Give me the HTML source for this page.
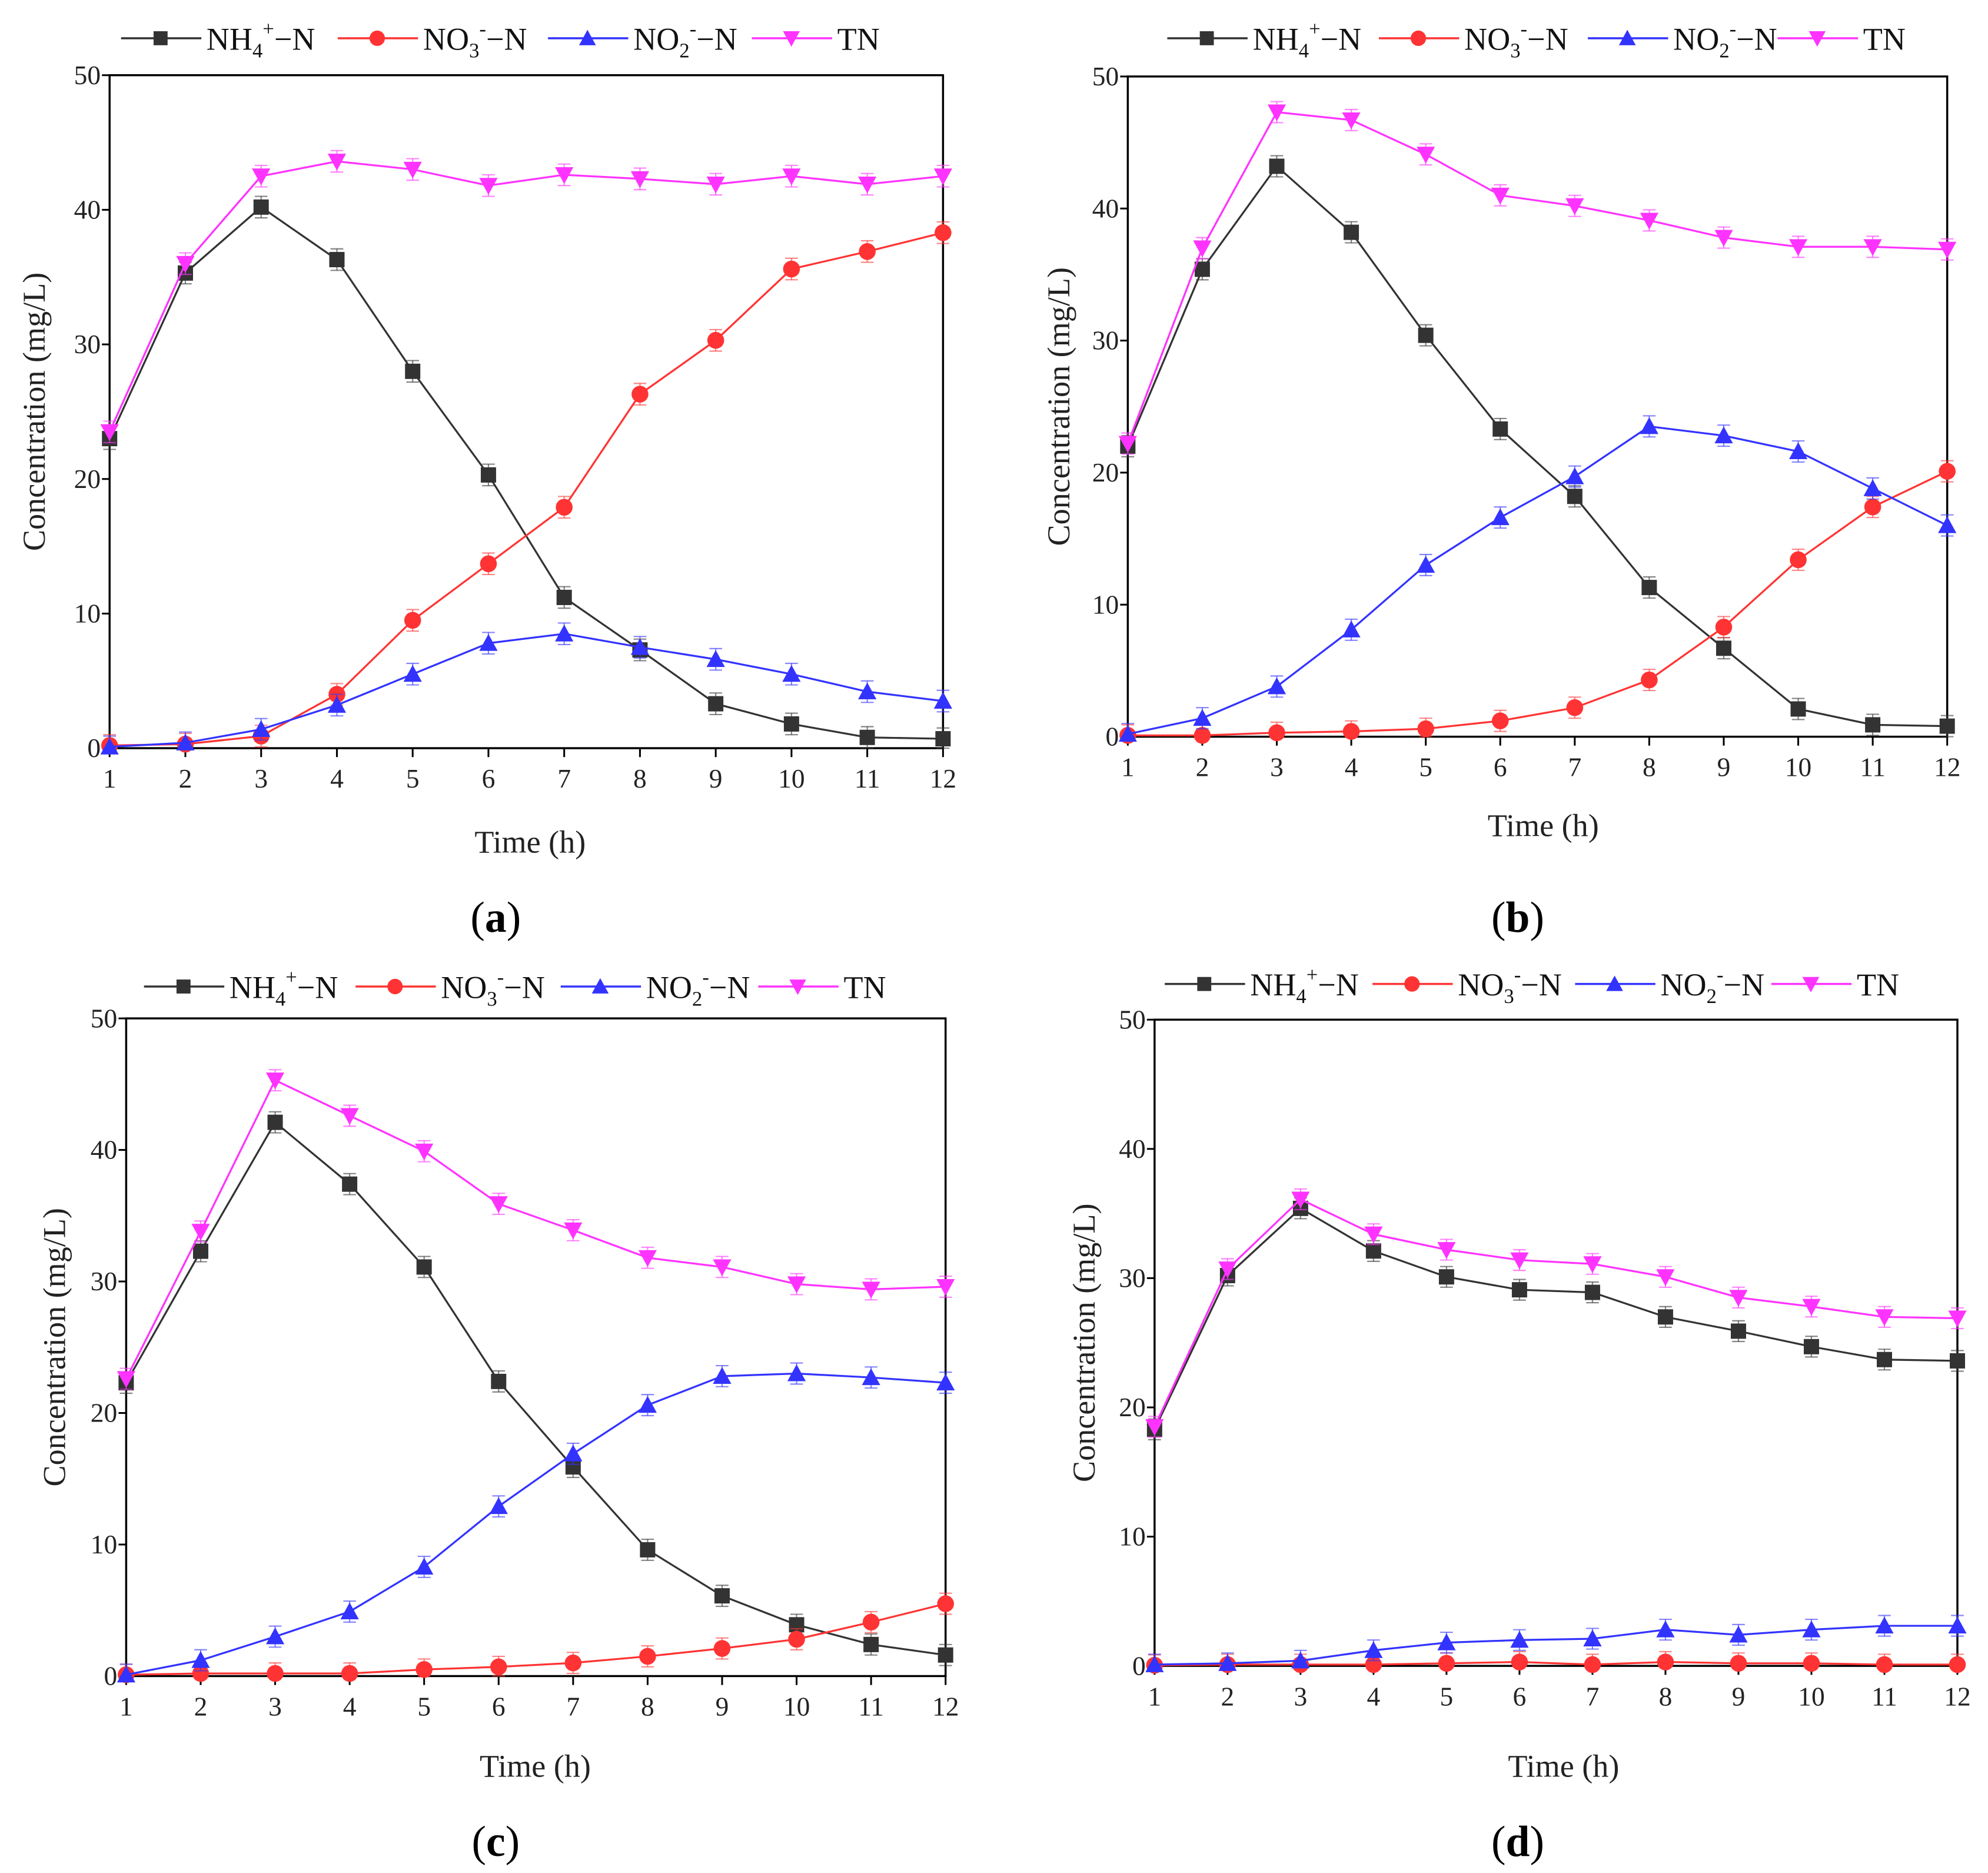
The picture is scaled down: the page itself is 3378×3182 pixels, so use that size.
<!DOCTYPE html>
<html><head><meta charset="utf-8"><style>
html,body{margin:0;padding:0;background:#fff;}
svg{display:block;font-family:"Liberation Serif",serif;}
</style></head><body>
<svg id="fig" width="3378" height="3182" viewBox="0 0 1560 1469.5" xmlns="http://www.w3.org/2000/svg"></svg>
<script>
const hours=[1,2,3,4,5,6,7,8,9,10,11,12];
const yTicks=[0,10,20,30,40,50];
const seriesNames=["NH4","NO3","NO2","TN"];
// panel a
const aNH4=[23,35.3,40.2,36.3,28,20.3,11.2,7.3,3.3,1.8,0.8,0.7];
const aNO3=[0.2,0.3,0.9,4.0,9.5,13.7,17.9,26.3,30.3,35.6,36.9,38.3];
const aNO2=[0.1,0.4,1.4,3.2,5.5,7.8,8.5,7.5,6.6,5.5,4.2,3.5];
const aTN=[23.5,36,42.5,43.6,43,41.8,42.6,42.3,41.9,42.5,41.9,42.5];
// panel b
const bNH4=[22,35.4,43.2,38.2,30.4,23.3,18.2,11.3,6.7,2.1,0.9,0.8];
const bNO3=[0.1,0.1,0.3,0.4,0.6,1.2,2.2,4.3,8.3,13.4,17.4,20.1];
const bNO2=[0.2,1.4,3.8,8.1,13.0,16.6,19.7,23.5,22.8,21.6,18.8,16.0];
const bTN=[22.2,37,47.3,46.7,44.1,41,40.2,39.1,37.8,37.1,37.1,36.9];
// panel c
const cNH4=[22.3,32.3,42.1,37.4,31.1,22.4,15.9,9.6,6.1,3.9,2.4,1.6];
const cNO3=[0.1,0.2,0.2,0.2,0.5,0.7,1.0,1.5,2.1,2.8,4.1,5.5];
const cNO2=[0.1,1.2,3.0,4.9,8.3,12.9,16.9,20.6,22.8,23.0,22.7,22.3];
const cTN=[22.6,33.8,45.3,42.6,39.9,35.9,33.9,31.8,31.1,29.8,29.4,29.6];
// panel d
const dNH4=[18.3,30.2,35.4,32.1,30.1,29.1,28.9,27.0,25.9,24.7,23.7,23.6];
const dNO3=[0.05,0.1,0.1,0.1,0.2,0.3,0.1,0.3,0.2,0.2,0.1,0.1];
const dNO2=[0.1,0.2,0.4,1.2,1.8,2.0,2.1,2.8,2.4,2.8,3.1,3.1];
const dTN=[18.5,30.7,36.1,33.4,32.2,31.4,31.1,30.1,28.5,27.8,27.0,26.9];
const errVal=0.8;

const NS="http://www.w3.org/2000/svg";
const svg=document.getElementById("fig");
function mk(tag,attrs,parent){const e=document.createElementNS(NS,tag);for(const k in attrs)e.setAttribute(k,attrs[k]);(parent||svg).appendChild(e);return e;}
const colors={NH4:"#333333",NO3:"#ff3333",NO2:"#3333ff",TN:"#ff33ff"};
const lineCol={NH4:"#333333",NO3:"#ff3333",NO2:"#3333ff",TN:"#ff33ff"};

function marker(g,type,x,y,s){
  let e;
  if(type==="NH4"){e=mk("rect",{x:x-s,y:y-s,width:2*s,height:2*s,fill:colors.NH4},g);}
  else if(type==="NO3"){e=mk("circle",{cx:x,cy:y,r:s*1.1,fill:colors.NO3},g);}
  else if(type==="NO2"){e=mk("polygon",{points:`${x},${y-s*1.2} ${x-s*1.2},${y+s} ${x+s*1.2},${y+s}`,fill:colors.NO2},g);}
  else {e=mk("polygon",{points:`${x},${y+s*1.2} ${x-s*1.2},${y-s} ${x+s*1.2},${y-s}`,fill:colors.TN},g);}
  return e;
}
function legendLabel(g,type,x,y){
  const t=mk("text",{x:x,y:y,"font-size":"25",fill:"#111"},g);
  function sp(txt,attrs){const s=document.createElementNS(NS,"tspan");for(const k in attrs)s.setAttribute(k,attrs[k]);s.textContent=txt;t.appendChild(s);}
  if(type==="NH4"){sp("NH",{});sp("4",{"font-size":"16",dy:"6"});sp("+",{"font-size":"16",dy:"-17"});sp("\u2212N",{dy:"11"});}
  else if(type==="NO3"){sp("NO",{});sp("3",{"font-size":"16",dy:"6"});sp("-",{"font-size":"16",dy:"-17"});sp("\u2212N",{dy:"11"});}
  else if(type==="NO2"){sp("NO",{});sp("2",{"font-size":"16",dy:"6"});sp("-",{"font-size":"16",dy:"-17"});sp("\u2212N",{dy:"11"});}
  else sp("TN",{});
}

const panels=[
 {id:"a",x1:86,x12:740,y0:587,y50:59,data:[aNH4,aNO3,aNO2,aTN],leg:[95,265,430,590],legY:30,ytx:26,xtX:416,xtY:660,lab:[389,720]},
 {id:"b",x1:885,x12:1528,y0:578,y50:60,data:[bNH4,bNO3,bNO2,bTN],leg:[916,1082,1246,1395],legY:30,ytx:830,xtX:1211,xtY:647,lab:[1191,720]},
 {id:"c",x1:99,x12:742,y0:1315,y50:799,data:[cNH4,cNO3,cNO2,cTN],leg:[113,279,440,595],legY:774,ytx:42,xtX:420,xtY:1385,lab:[389,1445]},
 {id:"d",x1:906,x12:1536,y0:1307,y50:800,data:[dNH4,dNO3,dNO2,dTN],leg:[914,1077,1236,1390],legY:772,ytx:850,xtX:1227,xtY:1385,lab:[1191,1445]}
];

panels.forEach(p=>{
  const g=mk("g",{});
  
  
  const xs=h=>p.x1+(h-1)*(p.x12-p.x1)/11;
  const ys=v=>p.y0-v*(p.y0-p.y50)/50;
  const fr=mk("rect",{x:p.x1,y:p.y50,width:p.x12-p.x1,height:p.y0-p.y50,fill:"none",stroke:"#000","stroke-width":"1.6"},g);
  
  
  yTicks.forEach(v=>{
    const y=ys(v);
    mk("line",{x1:p.x1-6,x2:p.x1,y1:y,y2:y,stroke:"#000","stroke-width":"1.4"},g);
    const t=mk("text",{x:p.x1-7,y:y+7,"text-anchor":"end","font-size":"21",fill:"#222"},g);
    t.textContent=v;
    
    
  });
  hours.forEach(h=>{
    const x=xs(h);
    mk("line",{x1:x,x2:x,y1:p.y0,y2:p.y0+7,stroke:"#000","stroke-width":"1.4"},g);
    const t=mk("text",{x:x,y:p.y0+31,"text-anchor":"middle","font-size":"21",fill:"#222"},g);
    t.textContent=h;
    
    
  });
  seriesNames.forEach((s,si)=>{
    const vals=p.data[si];
    const sg=mk("g",{},g);
    
    
    const pts=vals.map((v,i)=>xs(hours[i])+","+ys(v)).join(" ");
    mk("polyline",{points:pts,fill:"none",stroke:lineCol[s],"stroke-width":"1.5"},sg);
    vals.forEach((v,i)=>{
      const x=xs(hours[i]);
      const e1=ys(v+errVal),e2=ys(Math.max(0,v-errVal));
      mk("line",{x1:x,x2:x,y1:e1,y2:e2,stroke:lineCol[s],"stroke-width":"1","stroke-opacity":"0.6"},sg);
      mk("line",{x1:x-5,x2:x+5,y1:e1,y2:e1,stroke:lineCol[s],"stroke-width":"1","stroke-opacity":"0.6"},sg);
      mk("line",{x1:x-5,x2:x+5,y1:e2,y2:e2,stroke:lineCol[s],"stroke-width":"1","stroke-opacity":"0.6"},sg);
      const m=marker(sg,s,x,ys(v),6);
      
      
    });
  });
  seriesNames.forEach((s,si)=>{
    const lx=p.leg[si];
    const lg=mk("g",{},g);
    
    
    mk("line",{x1:lx,x2:lx+63,y1:p.legY,y2:p.legY,stroke:lineCol[s],"stroke-width":"1.6"},lg);
    marker(lg,s,lx+31,p.legY,5.5);
    legendLabel(lg,s,lx+67,p.legY+9);
  });
  const yt=mk("text",{x:0,y:0,transform:`translate(${p.ytx+9},${(p.y0+p.y50)/2}) rotate(-90)`,"text-anchor":"middle","font-size":"25",fill:"#222"},g);
  yt.textContent="Concentration (mg/L)";
  
  
  const xt=mk("text",{x:p.xtX,y:p.xtY+9,"text-anchor":"middle","font-size":"25",fill:"#222"},g);
  xt.textContent="Time (h)";
  
  
  const lb=mk("text",{x:p.lab[0],y:p.lab[1]+11,"text-anchor":"middle","font-size":"34",fill:"#000"},g);
  lb.innerHTML="(<tspan font-weight='bold'>"+p.id+"</tspan>)";
  
  
});
</script>
</body></html>
